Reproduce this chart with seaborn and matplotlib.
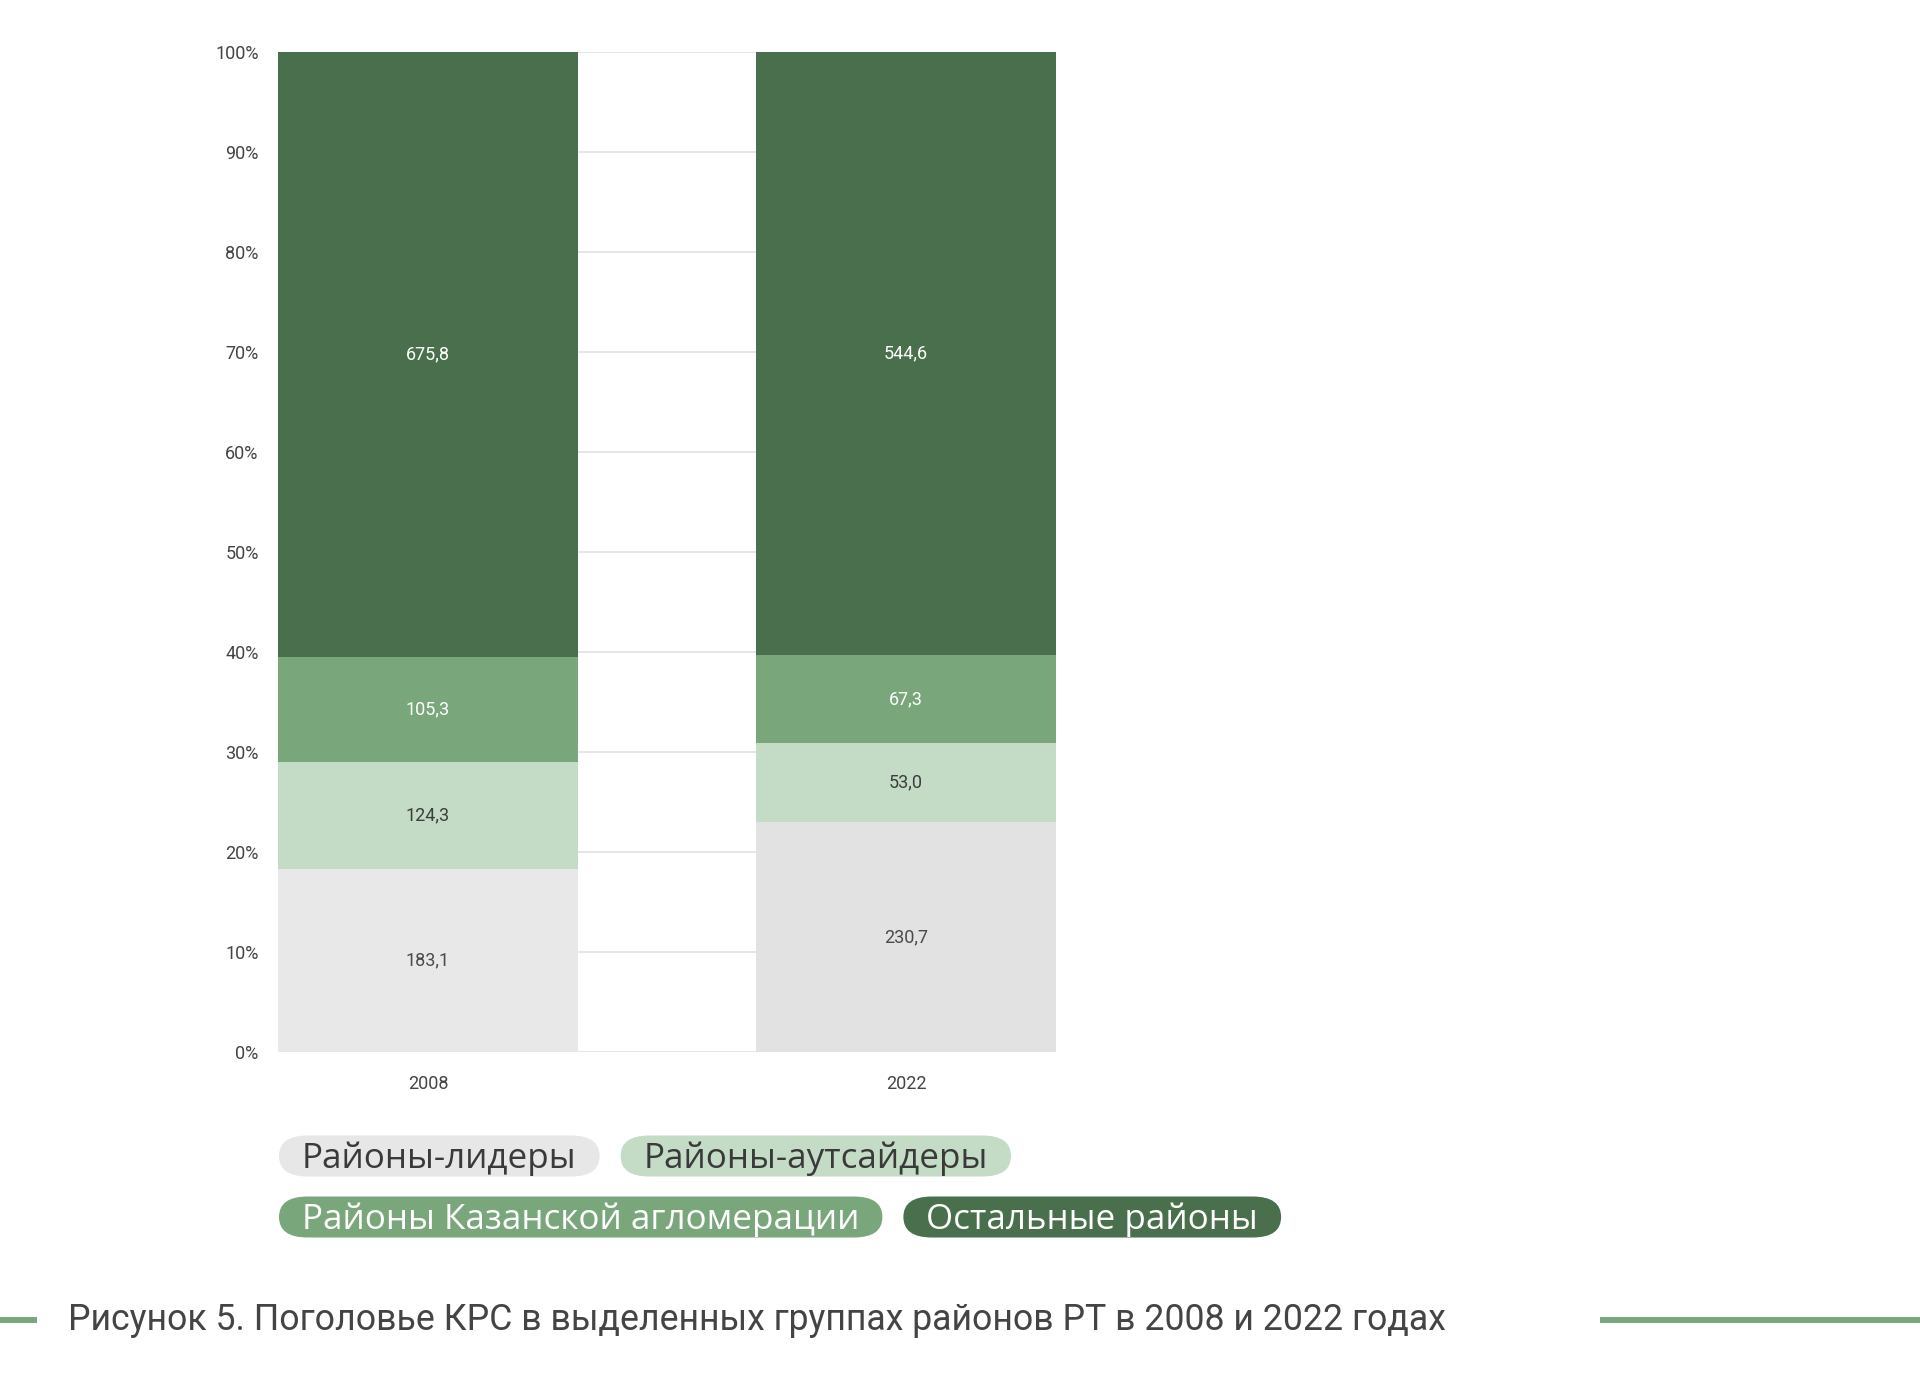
import numpy as np
import pandas as pd
import matplotlib.pyplot as plt
import seaborn as sns
from matplotlib.patches import FancyBboxPatch
from matplotlib.lines import Line2D

# данные
years = ['2008', '2022']
groups = ['Районы-лидеры', 'Районы-аутсайдеры', 'Районы Казанской агломерации', 'Остальные районы']
share_leaders = [18.3, 23.0]
share_outsiders = [10.7, 7.9]
share_kazan = [10.5, 8.8]
share_rest = [60.5, 60.3]
# подписи (тыс. голов)
val_leaders = ['183,1', '230,7']
val_outsiders = ['124,3', '53,0']
val_kazan = ['105,3', '67,3']
val_rest = ['675,8', '544,6']
yticks = [0, 10, 20, 30, 40, 50, 60, 70, 80, 90, 100]
caption = 'Рисунок 5. Поголовье КРС в выделенных группах районов РТ в 2008 и 2022 годах'

colors = ['#e7e7e7', '#c4dcc6', '#79a67b', '#4a6f4c']
leaders_by_year = {'2008': '#e8e8e8', '2022': '#e2e2e2'}
label_colors = ['#4a4a4a', '#3d3d3d', 'white', 'white']

sns.set_theme(style='white')
plt.rcParams['font.family'] = ['Roboto', 'DejaVu Sans']

W, H = 1920, 1382
fig = plt.figure(figsize=(W / 100, H / 100), dpi=100)
ax = fig.add_axes([278 / W, 1 - 1052 / H, 778 / W, 1000 / H])

shares = [share_leaders, share_outsiders, share_kazan, share_rest]
values = [val_leaders, val_outsiders, val_kazan, val_rest]
cum = np.cumsum(np.array(shares), axis=0)

# рисуем накопленные столбцы от верхнего к нижнему
for i in range(len(groups) - 1, -1, -1):
    df = pd.DataFrame({'year': years, 'cum': cum[i]})
    if i == 0:
        sns.barplot(data=df, x='year', y='cum', hue='year', palette=leaders_by_year,
                    width=0.628, saturation=1, ax=ax, zorder=2, linewidth=0, legend=False)
    else:
        sns.barplot(data=df, x='year', y='cum', color=colors[i], width=0.628,
                    saturation=1, ax=ax, zorder=2, linewidth=0)

for i in range(len(groups)):
    for j in range(len(years)):
        ax.text(j, cum[i][j] - shares[i][j] / 2, values[i][j], ha='center', va='center',
                fontsize=13, color=label_colors[i], zorder=5)

ax.set_ylim(0, 100)
ax.set_xlim(-0.314, 1.314)
ax.set_yticks(yticks)
ax.set_yticklabels([f'{t}%' for t in yticks])
ax.yaxis.grid(True, color='#e2e2e2', linewidth=1.2)
ax.set_axisbelow(True)
ax.set_xlabel('')
ax.set_ylabel('')
for s in ax.spines.values():
    s.set_visible(False)
ax.tick_params(axis='y', length=0, pad=14, labelsize=13, labelcolor='#444444')
ax.tick_params(axis='x', length=0, pad=16.5, labelsize=13, labelcolor='#444444')

# легенда в виде "таблеток"
fig.canvas.draw()
renderer = fig.canvas.get_renderer()
rows = [[0, 1], [2, 3]]
row_y = [1156, 1217]
pill_h = 41
padx = 23
gap = 21
for r, idxs in enumerate(rows):
    x = 279
    for i in idxs:
        t = fig.text(0, 0, groups[i], fontsize=25.2, color='#3a3a3a' if i < 2 else 'white',
                     va='center', ha='left', zorder=5, family=['Open Sans', 'DejaVu Sans'])
        tw = t.get_window_extent(renderer).width
        pw = tw + 2 * padx
        yc = H - row_y[r]
        box = FancyBboxPatch(((x) / W, (yc - pill_h / 2) / H), pw / W, pill_h / H,
                             boxstyle=f'round,pad=0,rounding_size={pill_h / 2 / H}',
                             transform=fig.transFigure, facecolor=colors[i],
                             edgecolor='none', zorder=1)
        fig.patches.append(box)
        t.set_position(((x + padx) / W, (yc - 3) / H))
        x += pw + gap

# подпись рисунка
fig.text(68 / W, 1 - 1320 / H, caption, fontsize=25.7, color='#444444', va='center', ha='left')
fig.add_artist(Line2D([0, 37 / W], [1 - 1320 / H] * 2, color='#79a67b', linewidth=4.3,
                      transform=fig.transFigure, solid_capstyle='butt'))
fig.add_artist(Line2D([1600 / W, 1], [1 - 1320 / H] * 2, color='#79a67b', linewidth=4.3,
                      transform=fig.transFigure, solid_capstyle='butt'))

fig.savefig('out.png', dpi=100, facecolor='white')
